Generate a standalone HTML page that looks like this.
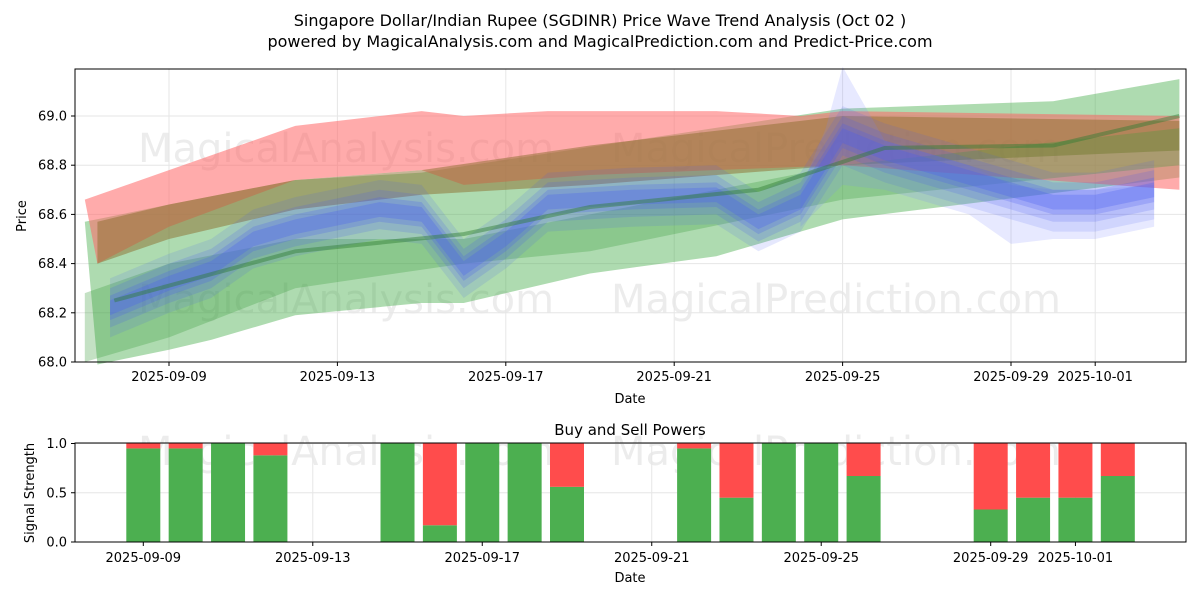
<!DOCTYPE html>
<html><head><meta charset="utf-8">
<style>
body{margin:0;background:#fff;font-family:"Liberation Sans","DejaVu Sans",sans-serif;}
svg text{font-family:"DejaVu Sans","Liberation Sans",sans-serif;}
</style></head>
<body>
<svg id="c" width="1200" height="600" xmlns="http://www.w3.org/2000/svg">
<rect width="1200" height="600" fill="#fff"/>
<text x="600" y="26" font-size="16" text-anchor="middle">Singapore Dollar/Indian Rupee (SGDINR) Price Wave Trend Analysis (Oct 02 )</text>
<text x="600" y="47" font-size="16" text-anchor="middle">powered by MagicalAnalysis.com and MagicalPrediction.com and Predict-Price.com</text>
<g id="topPanel"></g>
<g id="botPanel"></g>
</svg>
<script>
// day offsets from 2025-09-09
const tickLabels=["2025-09-09","2025-09-13","2025-09-17","2025-09-21","2025-09-25","2025-09-29","2025-10-01"];
const tickDays=[0,4,8,12,16,20,22];
const yTicks=[68.0,68.2,68.4,68.6,68.8,69.0];
const redTop=[[-2,68.66],[0,68.78],[3,68.96],[6,69.02],[7,69.0],[9,69.02],[13,69.02],[15,69.0],[16,69.02],[24,69.0]];
const redBot=[[24,68.7],[16,68.8],[10,68.76],[7,68.72],[6,68.78],[3,68.74],[0,68.55],[-1.7,68.4]];
const greenTop=[[-2,68.57],[0,68.64],[3,68.74],[6,68.77],[16,69.03],[21,69.06],[24,69.15]];
const greenBot=[[24,68.75],[16,68.58],[13,68.43],[10,68.36],[7,68.24],[6,68.24],[3,68.19],[1,68.09],[0,68.05],[-1.7,67.99]];
const green2Top=[[-2,68.28],[0,68.4],[3,68.5],[7,68.5],[10,68.6],[16,68.8],[24,68.95]];
const green2Bot=[[24,68.8],[16,68.66],[10,68.45],[7,68.4],[3,68.3],[0,68.1],[-2,68.0]];
const oliveTop=[[-1.7,68.57],[0,68.64],[3,68.74],[6,68.78],[10,68.88],[16,69.0],[24,68.98]];
const oliveBot=[[24,68.86],[16,68.8],[10,68.72],[6,68.68],[3,68.62],[0,68.5],[-1.7,68.4]];
const blueCenter=[[-1.4,68.22],[0,68.32],[1,68.38],[2,68.5],[3,68.55],[5,68.62],[6,68.6],[7,68.38],[8,68.5],[9,68.65],[11,68.67],[13,68.68],[14,68.57],[15,68.65],[16,68.92],[17,68.85],[19,68.75],[21,68.65],[22,68.65],[23.4,68.7]];
const blueSpikeTop=[[15,68.7],[15.6,68.95],[16,69.2],[16.5,69.05],[17,68.9],[19,68.8],[20,68.72],[21,68.7],[22,68.7],[23.4,68.72]];
const blueSpikeBot=[[23.4,68.55],[22,68.5],[21,68.5],[20,68.48],[19,68.6],[17,68.7],[16,68.72],[15,68.55]];
const trendLine=[[-1.3,68.25],[3,68.45],[7,68.52],[10,68.63],[14,68.7],[17,68.87],[21,68.88],[24,69.0]];
const barDays=[0,1,2,3,6,7,8,9,10,13,14,15,16,17,20,21,22,23];
const buyVals=[0.95,0.95,1.0,0.88,1.0,0.17,1.0,1.0,0.56,0.95,0.45,1.0,1.0,0.67,0.33,0.45,0.45,0.67];

const NS="http://www.w3.org/2000/svg";
const XT=d=>169+42.1*d;
const XB=d=>143.3+42.37*d;
const Y=v=>362-(v-68)*246;
const YB=v=>542-v*98.5;
function mk(p,tag,a){const e=document.createElementNS(NS,tag);for(const k in a)e.setAttribute(k,a[k]);p.appendChild(e);return e;}
const topG=document.getElementById('topPanel'),botG=document.getElementById('botPanel');
function txt(p,x,y,s,t,anchor,name){const e=mk(p,'text',{x:x,y:y,'font-size':s,'text-anchor':anchor||'middle'});e.textContent=t;


return e;}
[[346,162,"MagicalAnalysis.com"],[836,162,"MagicalPrediction.com"],[346,313,"MagicalAnalysis.com"],[836,313,"MagicalPrediction.com"],[346,465,"MagicalAnalysis.com"],[836,465,"MagicalPrediction.com"]].forEach(w=>{const e=txt(topG,w[0],w[1],40,w[2],'middle','watermark');e.setAttribute('fill','#000');e.setAttribute('opacity','0.07');});
const gT=mk(topG,'g',{});
tickDays.forEach(d=>{mk(gT,'line',{x1:XT(d),x2:XT(d),y1:69,y2:362,stroke:'#e6e6e6'});});
yTicks.forEach(v=>{mk(gT,'line',{x1:75,x2:1186,y1:Y(v),y2:Y(v),stroke:'#e6e6e6'});});
function poly(pts,fill,op,name){const e=mk(topG,'polygon',{points:pts.map(p=>XT(p[0])+','+Y(p[1])).join(' '),fill:fill,opacity:op});

}
poly(greenTop.concat(greenBot),'#4caf50',0.45,'green-band');
poly(redTop.concat(redBot),'#ff6666',0.55,'red-band');
poly(oliveTop.concat(oliveBot),'#8b6e2e',0.5,'olive-band');
poly(green2Top.concat(green2Bot),'#3a9a3a',0.3,'green-band-inner');
poly(blueSpikeTop.concat(blueSpikeBot),'#7b86ff',0.18,'blue-spike-band');
[0.12,0.08,0.05,0.03].forEach((w,i)=>{const up=blueCenter.map(p=>[p[0],p[1]+w]);const dn=blueCenter.map(p=>[p[0],p[1]-w]).reverse();poly(up.concat(dn),'#4a5cf0',0.14+i*0.05,'blue-wave-band');});
const tl=mk(topG,'polyline',{points:trendLine.map(p=>XT(p[0])+','+Y(p[1])).join(' '),fill:'none',stroke:'#2e7d32',"stroke-width":4,opacity:0.45});


mk(topG,'rect',{x:75,y:69,width:1111,height:293,fill:'none',stroke:'#000'});
tickDays.forEach((d,i)=>{mk(topG,'line',{x1:XT(d),x2:XT(d),y1:362,y2:366,stroke:'#000'});txt(topG,XT(d),381,13,tickLabels[i],'middle','x-tick-label');});
yTicks.forEach(v=>{mk(topG,'line',{x1:71,x2:75,y1:Y(v),y2:Y(v),stroke:'#000'});txt(topG,67,Y(v)+4.5,13,v.toFixed(1),'end','y-tick-label');});
txt(topG,630,403,13,'Date','middle','x-axis-title');
const yt=txt(topG,26,216,13,'Price','middle','y-axis-title');yt.setAttribute('transform','rotate(-90 26 216)');
txt(botG,630,435,15,'Buy and Sell Powers','middle','signal-title');
tickDays.forEach(d=>{mk(botG,'line',{x1:XB(d),x2:XB(d),y1:443,y2:542,stroke:'#e6e6e6'});});
[0,0.5,1].forEach(v=>{mk(botG,'line',{x1:75,x2:1186,y1:YB(v),y2:YB(v),stroke:'#e6e6e6'});});
barDays.forEach((d,i)=>{const b=buyVals[i];
 const g=mk(botG,'rect',{x:XB(d)-17,y:YB(b),width:34,height:YB(0)-YB(b),fill:'#4caf50'});
 
 
 const r=mk(botG,'rect',{x:XB(d)-17,y:YB(1),width:34,height:YB(b)-YB(1),fill:'#ff4c4c'});
 
 });
mk(botG,'rect',{x:75,y:443,width:1111,height:99,fill:'none',stroke:'#000'});
tickDays.forEach((d,i)=>{mk(botG,'line',{x1:XB(d),x2:XB(d),y1:542,y2:546,stroke:'#000'});txt(botG,XB(d),562,13,tickLabels[i],'middle','x-tick-label');});
[0,0.5,1].forEach(v=>{mk(botG,'line',{x1:71,x2:75,y1:YB(v),y2:YB(v),stroke:'#000'});txt(botG,67,YB(v)+4.5,13,v.toFixed(1),'end','y-tick-label');});
txt(botG,630,582,13,'Date','middle','x-axis-title');
const yb=txt(botG,34,493,13,'Signal Strength','middle','y-axis-title');yb.setAttribute('transform','rotate(-90 34 493)');
</script>
</body></html>
